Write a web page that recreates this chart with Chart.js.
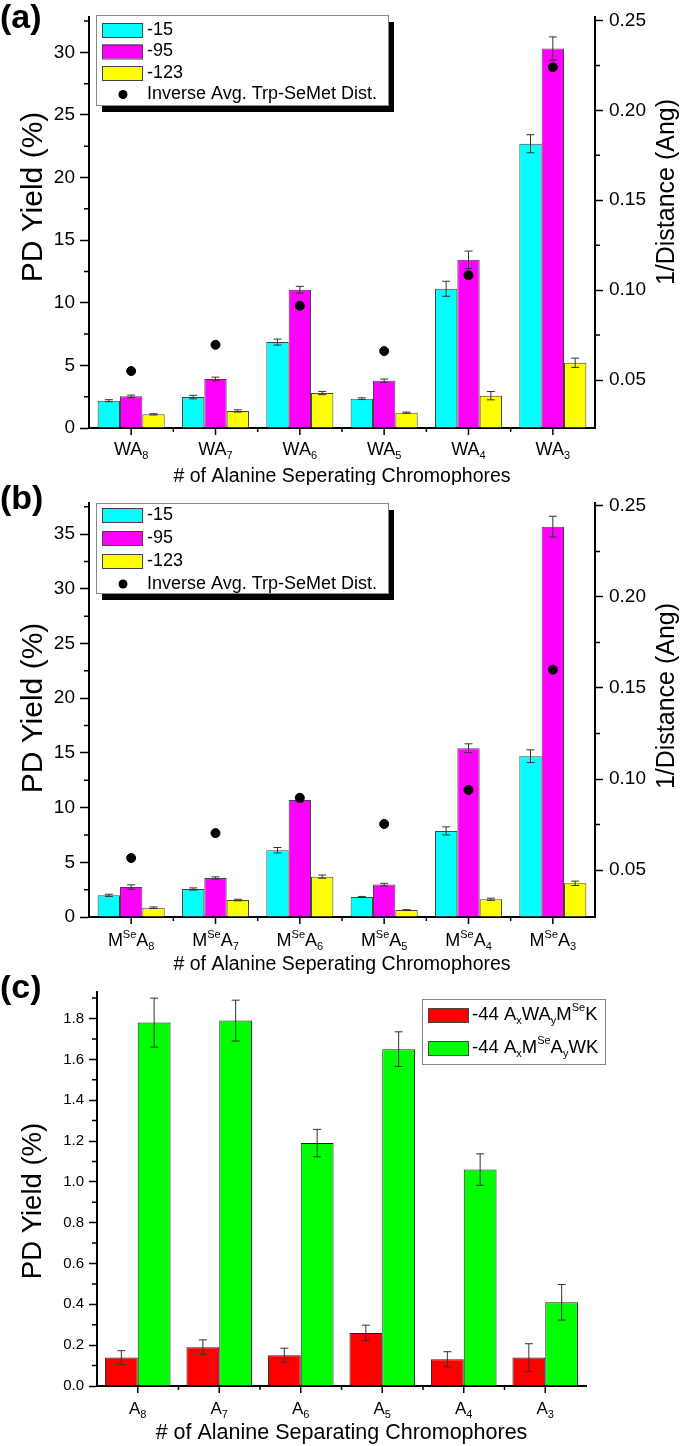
<!DOCTYPE html>
<html>
<head>
<meta charset="utf-8">
<title>PD yield vs alanine spacers</title>
<script src="https://cdn.jsdelivr.net/npm/chart.js@4.4.1/dist/chart.umd.min.js"></script>
<style>
  body { margin: 0; background: #fff; }
  canvas { position: absolute; left: 0; }
</style>
</head>
<body>
<canvas id="chartA" width="685" height="485" style="top:0px"></canvas>
<canvas id="chartB" width="685" height="490" style="top:485px"></canvas>
<canvas id="chartC" width="685" height="471" style="top:975px"></canvas>
<script>
// ---------- data ----------
const labelsA = ['WA_{8}', 'WA_{7}', 'WA_{6}', 'WA_{5}', 'WA_{4}', 'WA_{3}'];
const labelsB = ['M^{Se}A_{8}', 'M^{Se}A_{7}', 'M^{Se}A_{6}', 'M^{Se}A_{5}', 'M^{Se}A_{4}', 'M^{Se}A_{3}'];
const labelsC = ['A_{8}', 'A_{7}', 'A_{6}', 'A_{5}', 'A_{4}', 'A_{3}'];

const seriesNames = ['-15', '-95', '-123'];
const dotName = 'Inverse Avg. Trp-SeMet Dist.';
const seriesNamesC = ['-44 A_{x}WA_{y}M^{Se}K', '-44 A_{x}M^{Se}A_{y}WK'];

// panel (a)
const yieldA15 = [2.18, 2.47, 6.86, 2.34, 11.12, 22.7];
const errA15 = [0.08, 0.14, 0.24, 0.07, 0.6, 0.72];
const yieldA95 = [2.53, 3.91, 11.04, 3.78, 13.43, 30.3];
const errA95 = [0.1, 0.15, 0.27, 0.13, 0.7, 0.93];
const yieldA123 = [1.09, 1.36, 2.79, 1.22, 2.58, 5.21];
const errA123 = [0.05, 0.09, 0.13, 0.05, 0.33, 0.37];
const distA = [0.055, 0.0696, 0.0913, 0.0661, 0.1083, 0.224];

// panel (b)
const yieldB15 = [1.98, 2.56, 6.1, 1.83, 7.87, 14.7];
const errB15 = [0.1, 0.1, 0.25, 0.05, 0.37, 0.58];
const yieldB95 = [2.74, 3.57, 10.7, 2.96, 15.43, 35.68];
const errB95 = [0.2, 0.1, 0.2, 0.12, 0.4, 0.95];
const yieldB123 = [0.85, 1.55, 3.69, 0.64, 1.62, 3.08];
const errB123 = [0.07, 0.07, 0.15, 0.03, 0.1, 0.2];
const distB = [0.0566, 0.0703, 0.0897, 0.0753, 0.094, 0.160];

// panel (c)
const yieldCW = [0.139, 0.19, 0.151, 0.26, 0.131, 0.139];
const errCW = [0.034, 0.036, 0.034, 0.038, 0.037, 0.068];
const yieldCM = [1.78, 1.79, 1.19, 1.65, 1.06, 0.41];
const errCM = [0.12, 0.10, 0.067, 0.085, 0.077, 0.087];

// tick values
const ticksLeftA = [0, 5, 10, 15, 20, 25, 30];
const ticksLeftB = [0, 5, 10, 15, 20, 25, 30, 35];
const ticksRight = [0.05, 0.10, 0.15, 0.20, 0.25];
const ticksC = [0, 0.2, 0.4, 0.6, 0.8, 1.0, 1.2, 1.4, 1.6, 1.8];

const FONT = '"Liberation Sans", Arial, Helvetica, sans-serif';
const colors = ['#00ffff', '#ff00ff', '#ffff00'];

// ---------- helpers ----------
// draws text like 'M^{Se}A_{8}' with super/subscripts
function drawRich(ctx, text, x, y, size, align) {
  const parts = [];
  const re = /([_^])\{([^}]*)\}|([^_^]+)/g;
  let m;
  while ((m = re.exec(text))) {
    if (m[3]) parts.push({t: m[3], k: 'n'});
    else parts.push({t: m[2], k: m[1] === '_' ? 'sub' : 'sup'});
  }
  const fontFor = k => (k === 'n' ? size : Math.round(size * 0.62)) + 'px ' + FONT;
  let w = 0;
  parts.forEach(p => { ctx.font = fontFor(p.k); p.w = ctx.measureText(p.t).width; w += p.w; });
  let cx = align === 'center' ? x - w / 2 : x;
  ctx.textAlign = 'left';
  ctx.textBaseline = 'middle';
  parts.forEach(p => {
    ctx.font = fontFor(p.k);
    const dy = p.k === 'sub' ? size * 0.33 : p.k === 'sup' ? -size * 0.36 : 0;
    ctx.fillText(p.t, cx, y + dy);
    cx += p.w;
  });
}

const errorBars = {
  id: 'errorBars',
  afterDatasetDraw(chart, args) {
    const ds = chart.data.datasets[args.index];
    if (!ds.errors) return;
    const ctx = chart.ctx;
    const yScale = chart.scales[args.meta.yAxisID];
    ctx.save();
    ctx.strokeStyle = '#333';
    ctx.lineWidth = 1;
    args.meta.data.forEach((bar, i) => {
      const v = ds.data[i], e = ds.errors[i];
      const t = yScale.getPixelForValue(v + e), b = yScale.getPixelForValue(v - e);
      ctx.beginPath();
      ctx.moveTo(bar.x, t); ctx.lineTo(bar.x, b);
      ctx.moveTo(bar.x - 4, t); ctx.lineTo(bar.x + 4, t);
      ctx.moveTo(bar.x - 4, b); ctx.lineTo(bar.x + 4, b);
      ctx.stroke();
    });
    ctx.restore();
  }
};

const panelDecor = {
  id: 'panelDecor',
  afterDraw(chart, args, o) {
    const ctx = chart.ctx, area = chart.chartArea, xs = chart.scales.x;
    ctx.save();
    ctx.strokeStyle = '#000';
    ctx.fillStyle = '#000';
    ctx.lineWidth = 1.5;
    // x ticks: long at category centres, short at boundaries
    const n = chart.data.labels.length;
    const step = xs.getPixelForValue(1) - xs.getPixelForValue(0);
    ctx.beginPath();
    for (let i = 0; i < n; i++) {
      const px = xs.getPixelForValue(i);
      ctx.moveTo(px, area.bottom); ctx.lineTo(px, area.bottom + 7);
      if (i > 0) { ctx.moveTo(px - step / 2, area.bottom); ctx.lineTo(px - step / 2, area.bottom + 4); }
    }
    ctx.stroke();
    // minor y ticks
    (o.minor || []).forEach(mt => {
      const s = chart.scales[mt.id];
      const ax = mt.id === 'y2' ? area.right : area.left;
      const dir = mt.id === 'y2' ? 1 : -1;
      ctx.beginPath();
      for (let v = mt.from; v < s.max; v += mt.step) {
        const py = s.getPixelForValue(v);
        ctx.moveTo(ax, py); ctx.lineTo(ax + dir * 5, py);
      }
      ctx.stroke();
    });
    // x tick labels
    chart.data.labels.forEach((lab, i) => {
      drawRich(ctx, lab, xs.getPixelForValue(i), area.bottom + o.labelDy, o.labelSize, 'center');
    });
    // axis titles
    ctx.textAlign = 'center';
    ctx.textBaseline = 'middle';
    ctx.font = o.xTitle.size + 'px ' + FONT;
    ctx.fillText(o.xTitle.text, (area.left + area.right) / 2, area.bottom + o.xTitle.dy);
    [o.yTitle, o.y2Title].forEach(t => {
      if (!t) return;
      ctx.save();
      ctx.translate(t.x, t.y);
      ctx.rotate(-Math.PI / 2);
      ctx.font = t.size + 'px ' + FONT;
      ctx.fillText(t.text, 0, 0);
      ctx.restore();
    });
    // panel tag
    ctx.font = 'bold 34px ' + FONT;
    ctx.textAlign = 'left';
    ctx.fillText(o.tag.text, 0, o.tag.y);
    // legend
    const L = o.legend;
    if (L.shadow) {
      ctx.fillStyle = '#000';
      ctx.fillRect(L.x + 6, L.y + 7, L.w, L.h);
    }
    ctx.fillStyle = '#fff';
    ctx.fillRect(L.x, L.y, L.w, L.h);
    ctx.strokeStyle = '#888';
    ctx.lineWidth = 1;
    ctx.strokeRect(L.x + 0.5, L.y + 0.5, L.w, L.h);
    chart.data.datasets.forEach((ds, i) => {
      const ry = L.y + L.row0 + i * L.gap;
      ctx.fillStyle = '#000';
      if (ds.type === 'line') {
        ctx.beginPath();
        ctx.arc(L.x + 27, ry, 4.5, 0, Math.PI * 2);
        ctx.fill();
      } else {
        ctx.fillStyle = ds.backgroundColor;
        ctx.fillRect(L.x + 6, ry - 7, 40, 14);
        ctx.strokeStyle = '#444';
        ctx.strokeRect(L.x + 6.5, ry - 6.5, 40, 14);
        ctx.fillStyle = '#000';
      }
      drawRich(ctx, ds.label, L.x + L.textX, ry, L.size, 'left');
    });
    ctx.restore();
  }
};

function leftAxis(ticks, max, width, fontSize, fmt) {
  return {
    position: 'left', min: 0, max: max,
    afterBuildTicks: s => { s.ticks = ticks.map(v => ({value: v})); },
    afterFit: s => { s.width = width; },
    grid: {drawOnChartArea: false, tickLength: 9, color: '#000', tickWidth: 1.5},
    border: {color: '#000', width: 2},
    ticks: {color: '#000', padding: 5, font: {family: FONT, size: fontSize}, callback: fmt}
  };
}

function rightAxis(min, max) {
  return {
    position: 'right', min: min, max: max,
    afterBuildTicks: s => { s.ticks = ticksRight.map(v => ({value: v})); },
    afterFit: s => { s.width = 90; },
    grid: {drawOnChartArea: false, tickLength: 8, color: '#000', tickWidth: 1.5},
    border: {color: '#000', width: 2},
    ticks: {color: '#000', padding: 6, font: {family: FONT, size: 19}, callback: v => v.toFixed(2)}
  };
}

function xAxis(height) {
  return {
    type: 'category', offset: true,
    grid: {display: false},
    border: {color: '#000', width: 2},
    ticks: {display: false},
    afterFit: s => { s.height = height; }
  };
}

function barSet(label, data, errors, color, pct) {
  return {
    type: 'bar', label: label, data: data, errors: errors, yAxisID: 'y',
    backgroundColor: color, borderColor: '#444', borderWidth: 1,
    categoryPercentage: pct, barPercentage: 1, order: 1
  };
}

function dotSet(data) {
  return {
    type: 'line', label: dotName, data: data, yAxisID: 'y2', showLine: false,
    pointRadius: 4.5, pointBackgroundColor: '#000', pointBorderColor: '#000', order: 0
  };
}

function legendAB() {
  return {x: 96, y: 15, w: 292, h: 90, shadow: true, row0: 15, gap: 21.5, textX: 51, size: 18};
}

// ---------- panel (a) ----------
new Chart(document.getElementById('chartA'), {
  type: 'bar',
  data: {
    labels: labelsA,
    datasets: [
      barSet(seriesNames[0], yieldA15, errA15, colors[0], 0.795),
      barSet(seriesNames[1], yieldA95, errA95, colors[1], 0.795),
      barSet(seriesNames[2], yieldA123, errA123, colors[2], 0.795),
      dotSet(distA)
    ]
  },
  options: {
    responsive: false, animation: false,
    layout: {padding: {top: 17, left: 0, right: 0, bottom: 0}},
    scales: {
      x: xAxis(57),
      y: leftAxis(ticksLeftA, 32.79, 89, 19, v => v),
      y2: rightAxis(0.02333, 0.2517)
    },
    plugins: {
      legend: {display: false}, tooltip: {enabled: false},
      panelDecor: {
        tag: {text: '(a)', y: 19},
        labelDy: 22, labelSize: 18,
        xTitle: {text: '# of Alanine Seperating Chromophores', size: 19.5, dy: 49},
        yTitle: {text: 'PD Yield (%)', x: 34, y: 197, size: 30},
        y2Title: {text: '1/Distance (Ang)', x: 667, y: 192, size: 25},
        minor: [{id: 'y', from: 2.5, step: 5}, {id: 'y2', from: 0.075, step: 0.05}],
        legend: legendAB()
      }
    }
  },
  plugins: [errorBars, panelDecor]
});

// ---------- panel (b) ----------
new Chart(document.getElementById('chartB'), {
  type: 'bar',
  data: {
    labels: labelsB,
    datasets: [
      barSet(seriesNames[0], yieldB15, errB15, colors[0], 0.795),
      barSet(seriesNames[1], yieldB95, errB95, colors[1], 0.795),
      barSet(seriesNames[2], yieldB123, errB123, colors[2], 0.795),
      dotSet(distB)
    ]
  },
  options: {
    responsive: false, animation: false,
    layout: {padding: {top: 18, left: 0, right: 0, bottom: 0}},
    scales: {
      x: xAxis(58),
      y: leftAxis(ticksLeftB, 37.84, 89, 19, v => v),
      y2: rightAxis(0.0242, 0.2516)
    },
    plugins: {
      legend: {display: false}, tooltip: {enabled: false},
      panelDecor: {
        tag: {text: '(b)', y: 15},
        labelDy: 24, labelSize: 18,
        xTitle: {text: '# of Alanine Seperating Chromophores', size: 19.5, dy: 48},
        yTitle: {text: 'PD Yield (%)', x: 34, y: 223, size: 30},
        y2Title: {text: '1/Distance (Ang)', x: 667, y: 211, size: 25},
        minor: [{id: 'y', from: 2.5, step: 5}, {id: 'y2', from: 0.075, step: 0.05}],
        legend: {x: 96, y: 18, w: 292, h: 90, shadow: true, row0: 12, gap: 23, textX: 51, size: 18}
      }
    }
  },
  plugins: [errorBars, panelDecor]
});

// ---------- panel (c) ----------
new Chart(document.getElementById('chartC'), {
  type: 'bar',
  data: {
    labels: labelsC,
    datasets: [
      {type: 'bar', label: seriesNamesC[0], data: yieldCW, errors: errCW, yAxisID: 'y',
       backgroundColor: '#ff0000', borderColor: '#222', borderWidth: 1, categoryPercentage: 0.805, barPercentage: 1},
      {type: 'bar', label: seriesNamesC[1], data: yieldCM, errors: errCM, yAxisID: 'y',
       backgroundColor: '#00ff00', borderColor: '#222', borderWidth: 1, categoryPercentage: 0.805, barPercentage: 1}
    ]
  },
  options: {
    responsive: false, animation: false,
    layout: {padding: {top: 17, left: 0, right: 99, bottom: 0}},
    scales: {
      x: xAxis(60),
      y: Object.assign(leftAxis(ticksC, 1.93, 97, 15, v => v.toFixed(1)),
        {grid: {drawOnChartArea: false, tickLength: 8, color: '#000', tickWidth: 1.5}})
    },
    plugins: {
      legend: {display: false}, tooltip: {enabled: false},
      panelDecor: {
        tag: {text: '(c)', y: 14},
        labelDy: 23, labelSize: 17,
        xTitle: {text: '# of Alanine Separating Chromophores', size: 21.5, dy: 47},
        yTitle: {text: 'PD Yield (%)', x: 33, y: 226, size: 27.5},
        minor: [{id: 'y', from: 0.1, step: 0.2}],
        legend: {x: 422, y: 24, w: 183, h: 65, shadow: false, row0: 16, gap: 33, textX: 50, size: 18.5}
      }
    }
  },
  plugins: [errorBars, panelDecor]
});
</script>
</body>
</html>
